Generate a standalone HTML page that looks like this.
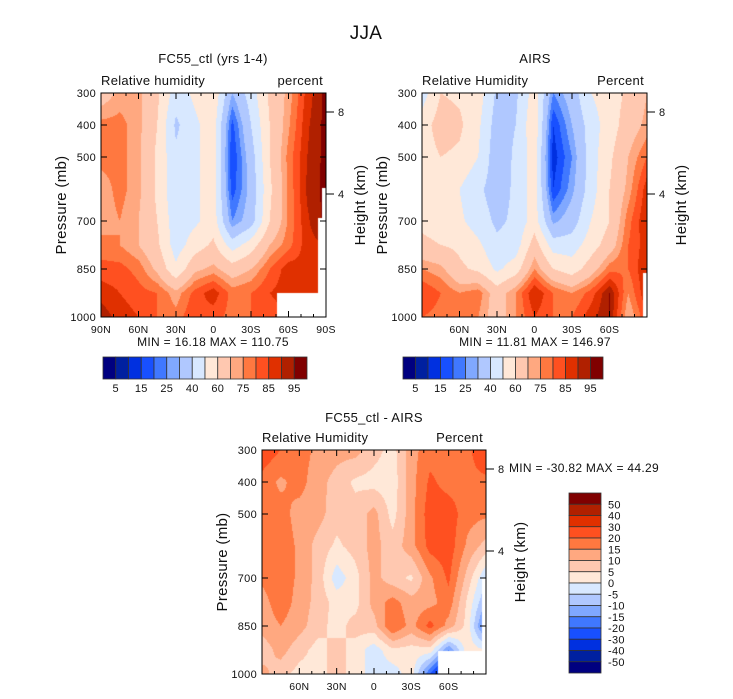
<!DOCTYPE html>
<html><head><meta charset="utf-8">
<style>
body{margin:0;background:#fff;width:733px;height:699px;overflow:hidden;position:relative;font-family:"Liberation Sans",sans-serif}
canvas{position:absolute}
svg{position:absolute;left:0;top:0}
text{font-family:"Liberation Sans",sans-serif;fill:#111;letter-spacing:0.3px}
</style></head><body>
<canvas id="c1" style="left:101px;top:93px" width="225" height="224"></canvas>
<canvas id="c2" style="left:422px;top:93px" width="225" height="224"></canvas>
<canvas id="c3" style="left:262px;top:450px" width="224" height="224"></canvas>
<svg id="ov" width="733" height="699"></svg>
<script>
const lats=[90,75,60,45,30,15,0,-15,-30,-45,-60,-75,-90];
const pres=[300,400,500,600,700,775,850,925,1000];
const rhLevels=[5,10,15,20,25,30,40,50,60,70,75,80,85,90,95];
const diffLevels=[-50,-40,-30,-20,-15,-10,-5,0,5,10,15,20,30,40,50];
const rhTickLabels=["5","15","25","40","60","75","85","95"];
const diffTickLabels=["50","40","30","20","15","10","5","0","-5","-10","-15","-20","-30","-40","-50"];
const latTickLabels=["90N","60N","30N","0","30S","60S","90S"];
const presTickLabels=[300,400,500,700,850,1000];
const modelRH=[
[65,72,72,62,45,52,58,30,45,62,72,87,97],
[77,77,72,60,38,48,55,18,40,60,74,89,97],
[77,77,72,58,42,48,55,15,35,60,77,90,97],
[72,77,72,58,42,48,55,17,33,58,76,91,97],
[72,75,70,60,44,48,55,25,35,60,76,89,97],
[77,75,70,62,45,55,62,45,55,70,78,88,90],
[82,82,78,68,52,68,72,65,70,80,88,86,90],
[88,85,82,80,72,82,88,78,80,85,88,88,90],
[93,88,85,80,77,85,82,78,80,82,85,88,90]];
const airsRH=[
[45,60,58,55,38,38,55,25,35,50,55,62,70],
[55,65,62,52,35,40,58,15,30,45,55,65,72],
[55,60,58,50,33,42,55,12,25,45,58,70,80],
[52,55,50,42,35,42,55,15,28,45,60,72,88],
[58,56,52,45,38,42,55,28,35,50,60,78,90],
[62,60,58,52,42,45,65,45,45,55,65,80,88],
[75,72,62,58,48,55,75,60,55,65,78,80,90],
[85,80,75,78,65,75,90,80,75,82,95,75,90],
[80,78,78,75,65,75,85,80,80,88,95,70,85]];
const diffRH=[
[24,20,17,14,12,12,7,3,13,18,18,18,27],
[18,14,17,12,8,4,3,2,13,21,18,18,18],
[16,17,13,12,7,7,12,3,13,23,23,17,16],
[16,18,14,8,4,7,12,7,13,22,23,14,8],
[16,18,14,8,-3,3,12,7,4,14,21,8,-5],
[13,18,13,8,3,3,12,17,12,13,18,4,-10],
[12,15,12,7,3,7,8,20,13,22,13,3,-20],
[7,12,7,3,7,3,-3,4,3,3,-15,3,0],
[12,7,3,3,7,3,-3,-3,3,-20,-40,3,0]];
const colors=["#000080","#0020a0","#0030e0","#1850ff","#4078ff","#80a8ff","#b0c8ff","#d8e8ff","#ffe8d8","#ffc8b0","#ffa880","#ff7840","#ff5020","#e03000","#b02000","#800000"];

function hex(c){return [parseInt(c.substr(1,2),16),parseInt(c.substr(3,2),16),parseInt(c.substr(5,2),16)];}
const rgb=colors.map(hex);
function interp(arr,v){
  for(let i=0;i<arr.length-1;i++){ if((v-arr[i])*(v-arr[i+1])<=0 && arr[i]!==arr[i+1]) return i+(v-arr[i])/(arr[i+1]-arr[i]); }
  return v<=Math.min(arr[0],arr[arr.length-1])?0:arr.length-1;
}
function drawField(id,grid,levels,whites){
  const cv=document.getElementById(id),ctx=cv.getContext('2d');
  const W=cv.width,H=cv.height,img=ctx.createImageData(W,H);
  for(let y=0;y<H;y++){
    const p=300+700*(y+0.5)/H;
    let fi=interp(pres,p);let i0=Math.min(Math.floor(fi),pres.length-2),ty=fi-i0;
    for(let x=0;x<W;x++){
      const lat=90-180*(x+0.5)/W;
      let fj=interp(lats,lat);let j0=Math.min(Math.floor(fj),lats.length-2),tx=fj-j0;
      const v=(grid[i0][j0]*(1-tx)+grid[i0][j0+1]*tx)*(1-ty)+(grid[i0+1][j0]*(1-tx)+grid[i0+1][j0+1]*tx)*ty;
      let k=0;while(k<levels.length&&v>=levels[k])k++;
      const c=rgb[k],o=(y*W+x)*4;
      img.data[o]=c[0];img.data[o+1]=c[1];img.data[o+2]=c[2];img.data[o+3]=255;
    }
  }
  ctx.putImageData(img,0,0);
  ctx.fillStyle="#fff";
  whites.forEach(w=>ctx.fillRect(w[0],w[1],w[2],w[3]));
}
drawField('c1',modelRH,rhLevels,[[176,200,49,24],[221,95,4,129],[217,125,8,99]]);
drawField('c2',airsRH,rhLevels,[[221,180,4,44]]);
drawField('c3',diffRH,diffLevels,[[176,201,48,23],[220,128,4,96]]);

const ov=document.getElementById('ov');
const NS="http://www.w3.org/2000/svg";
function el(tag,attrs,txt){const e=document.createElementNS(NS,tag);for(const k in attrs)e.setAttribute(k,attrs[k]);if(txt!==undefined)e.textContent=txt;ov.appendChild(e);return e;}
function txt(x,y,s,size,anchor,name,rot){
  const a={x:x,y:y,'font-size':size,'text-anchor':anchor||'middle'};
  if(rot)a.transform='rotate(-90 '+x+' '+y+')';
  const t=el('text',a,s);
  
  
  return t;
}
function axes(L,T,W,H,showEnds,pre,leftT,rightT){
  const xs=lat=>L+(90-lat)/180*W, ys=p=>T+(p-300)/700*H;
  const fr=el('rect',{x:L,y:T,width:W,height:H,fill:'none',stroke:'#000','stroke-width':1});
  
  
  for(let lat=80;lat>-90;lat-=10){
    const x=xs(lat),len=(lat%30===0)?6:3;
    el('line',{x1:x,y1:T+H,x2:x,y2:T+H-len,stroke:'#000'});
    el('line',{x1:x,y1:T,x2:x,y2:T+len,stroke:'#000'});
  }
  latTickLabels.forEach((s,i)=>{
    if(!showEnds&&(i===0||i===6))return;
    txt(L+i*W/6,T+H+16,s,10.5,'middle',pre+'-x-tick-'+s);
  });
  presTickLabels.forEach(p=>{
    const y=ys(p);
    el('line',{x1:L,y1:y,x2:L+6,y2:y,stroke:'#000'});
    el('line',{x1:L+W,y1:y,x2:L+W-6,y2:y,stroke:'#000'});
    txt(L-5,y+4,String(p),11,'end',pre+'-y-tick-'+p);
  });
  [[8,T+19],[4,T+101]].forEach(h=>{
    el('line',{x1:L+W,y1:h[1],x2:L+W+8,y2:h[1],stroke:'#000'});
    txt(L+W+12,h[1]+4,String(h[0]),11,'start',pre+'-height-tick-'+h[0]);
  });
  txt(L-35,T+H/2,'Pressure (mb)',15,'middle',pre+'-y-axis-title',true);
  txt(L+W+39,T+H/2,'Height (km)',15,'middle',pre+'-height-axis-title',true);
  txt(L,T-8,leftT,13,'start',pre+'-variable-label');
  txt(L+W-3,T-8,rightT,13,'end',pre+'-units-label');
}
txt(366,39,'JJA',19,'middle','figure-title');
txt(213,63,'FC55_ctl (yrs 1-4)',13,'middle','model-panel-title');
txt(535,63,'AIRS',13,'middle','airs-panel-title');
txt(374,422,'FC55_ctl - AIRS',13,'middle','difference-panel-title');
axes(101,93,225,224,true,'model','Relative humidity','percent');
axes(422,93,225,224,false,'airs','Relative Humidity','Percent');
axes(262,450,224,224,false,'diff','Relative Humidity','Percent');
txt(213,346,'MIN =  16.18   MAX = 110.75',12,'middle','model-min-max');
txt(535,346,'MIN =  11.81   MAX = 146.97',12,'middle','airs-min-max');
txt(509,472,'MIN = -30.82   MAX =  44.29',12,'start','diff-min-max');
function hbar(L,T,W,H,pre){
  const bw=W/16;
  colors.forEach((c,i)=>{
    const r=el('rect',{x:L+i*bw,y:T,width:bw,height:H,fill:c,stroke:'#333','stroke-width':0.8});
    
    
  });
  rhTickLabels.forEach((s,i)=>txt(L+(2*i+1)*bw,T+H+13,s,11,'middle',pre+'-colorbar-label'));
}
hbar(103,357,204,22,'model');
hbar(403,357,200,22,'airs');
(function(){
  const L=569,T=493,W=32,H=180,bh=H/16;
  colors.slice().reverse().forEach((c,i)=>{
    const r=el('rect',{x:L,y:T+i*bh,width:W,height:bh,fill:c,stroke:'#333','stroke-width':0.8});
    
    
  });
  diffTickLabels.forEach((s,i)=>txt(L+W+7,T+(i+1)*bh+4,s,11,'start','diff-colorbar-label'));
})();
</script>
</body></html>
